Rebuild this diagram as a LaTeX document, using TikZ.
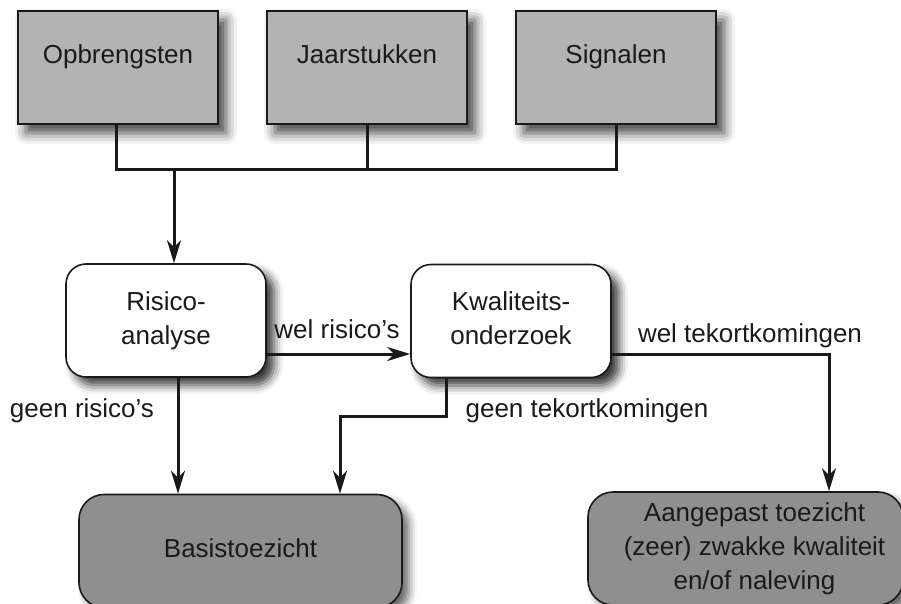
\documentclass[tikz,border=0pt]{standalone}
\usepackage{fontspec}
\setmainfont{Liberation Sans}
\usetikzlibrary{arrows.meta,shadows.blur}
\definecolor{topgray}{HTML}{B3B3B3}
\definecolor{botgray}{HTML}{8F8F8F}
\definecolor{ink}{HTML}{1A1A1A}
\begin{document}
\begin{tikzpicture}[x=1pt,y=-1pt,
  every node/.style={font=\fontsize{26}{34}\selectfont, text=ink},
  topbox/.style={draw=ink, line width=1.6pt, fill=topgray, minimum width=200pt, minimum height=113pt,
     inner sep=0pt, text height=20pt, text depth=29pt,
     blur shadow={shadow xshift=8pt, shadow yshift=-9pt, shadow blur radius=11pt, shadow opacity=75}},
  midbox/.style={draw=ink, line width=1.6pt, fill=white, rounded corners=20pt, minimum width=200pt,
     minimum height=113pt, inner sep=0pt, align=center,
     blur shadow={shadow xshift=8pt, shadow yshift=-8pt, shadow blur radius=9pt, shadow opacity=80}},
  botbox/.style={draw=ink, line width=1.6pt, fill=botgray, rounded corners=25pt,
     minimum height=113pt, inner sep=0pt, align=center,
     blur shadow={shadow xshift=7pt, shadow yshift=-7pt, shadow blur radius=8pt, shadow opacity=60}},
  conn/.style={draw=ink, line width=3pt},
  arr/.style={conn, -{Stealth[length=23pt,width=14pt,inset=7pt]}},
  lbl/.style={anchor=base, inner sep=0pt}
]
\useasboundingbox (0,0) rectangle (901,603);

% top boxes
\node[topbox] (opb)  at (118,67.5) {Opbrengsten};
\node[topbox] (jaar) at (367,67.5) {Jaarstukken};
\node[topbox] (sig)  at (616,67.5) {Signalen};

% middle boxes
\node[midbox] (ris)  at (166,320.5) {Risico-\\analyse};
\node[midbox] (kwal) at (511,321) {Kwaliteits-\\onderzoek\vphantom{y}};

% bottom boxes
\node[botbox, minimum width=323pt] (basis) at (240.5,551) {Basistoezicht\vphantom{y}};
\node[botbox, minimum width=315pt] (aang) at (745.5,548.5)
  {\hspace*{18pt}Aangepast toezicht\\\hspace*{18pt}(zeer) zwakke kwaliteit\\\hspace*{18pt}en/of naleving};

% coordinates
\coordinate (bus) at (174,169);
\coordinate (cr) at (178,0);
\coordinate (yw) at (0,354);
\coordinate (cw) at (829,0);
\coordinate (gk1) at (446,416);
\coordinate (gk2) at (340,416);

% bus lines
\draw[conn] (opb.south -| 116,0) |- (bus) -| (sig.south);
\draw[conn] (jaar.south) -- (jaar.south |- bus);
\draw[arr] (bus) -- (bus |- ris.north);

% flows
\draw[arr] (ris.south -| cr) -- (basis.north -| cr);
\draw[arr] (ris.east |- yw) -- (kwal.west |- yw);
\draw[arr] (kwal.east |- yw) -| (aang.north -| cw);
\draw[arr] (kwal.south -| gk1) -- (gk1) -- (gk2) -- (basis.north -| gk2);

% labels
\node[lbl] (l1) at (337,338) {wel risico’s};
\node[lbl] (l2) at (82,417) {geen risico’s};
\node[lbl] (l3) at (587,417) {geen tekortkomingen};
\node[lbl] (l4) at (750,342) {wel tekortkomingen};
\end{tikzpicture}
\end{document}
